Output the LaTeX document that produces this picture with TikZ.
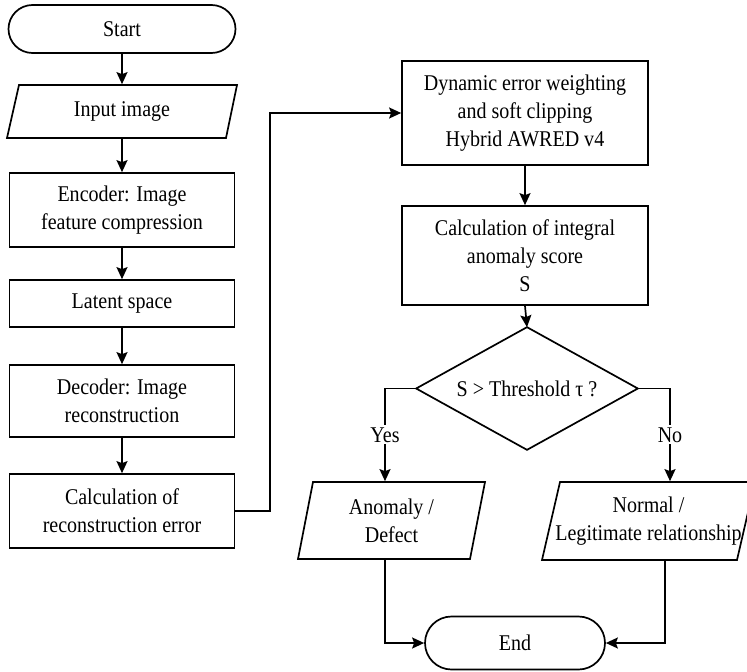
\documentclass[tikz,border=0pt]{standalone}
\usepackage{fontspec}
\setmainfont{Liberation Serif}[FakeStretch=0.89]
\usetikzlibrary{shapes.geometric,shapes.misc,arrows.meta}
\begin{document}
\begin{tikzpicture}[x=1pt,y=-1pt,line width=1.7pt,
  txt/.style={align=center,font=\fontsize{22.5}{28}\selectfont,inner sep=0pt},
  procbox/.style={txt,draw,rectangle},
  termbox/.style={txt,draw,rounded rectangle},
  iobox/.style={txt,rectangle},
  arr/.style={-{Stealth[length=12pt,width=11pt,inset=2pt]}},
  lab/.style={txt,fill=white,inner sep=2pt}]
\useasboundingbox (0,0) rectangle (747,672);
% left column
\node[termbox,minimum width=227pt,minimum height=48pt] (start) at (122,29) {Start};
\draw (19,85) -- (237,85) -- (226,138) -- (7,138) -- cycle;
\node[iobox,minimum width=206pt,minimum height=53pt] (inp) at (122,111.5) {Input image};
\node[procbox,minimum width=225pt,minimum height=74pt] (enc) at (122,210) {Encoder: Image\\feature compression};
\node[procbox,minimum width=225pt,minimum height=47pt] (lat) at (122,303.5) {Latent space};
\node[procbox,minimum width=225pt,minimum height=72pt] (dec) at (122,401) {Decoder: Image\\reconstruction};
\node[procbox,minimum width=225pt,minimum height=74pt] (rec) at (122,511) {Calculation of\\reconstruction error};
% right column
\node[procbox,minimum width=246pt,minimum height=104pt] (dyn) at (525,113) {Dynamic error weighting\\and soft clipping\\Hybrid AWRED v4};
\node[procbox,minimum width=246pt,minimum height=99pt] (score) at (525,255.5) {Calculation of integral\\anomaly score\\S};
\node[iobox,minimum width=220pt,minimum height=121pt] (thr) at (527,388.5) {S > Threshold τ ?};
\draw (thr.north) -- (thr.east) -- (thr.south) -- (thr.west) -- cycle;
\draw (313,482) -- (485,482) -- (470,559) -- (298,559) -- cycle;
\node[iobox,minimum width=170pt,minimum height=77pt] (anom) at (391.5,520.5) {Anomaly /\\Defect};
\draw (560,482) -- (755,482) -- (737,560) -- (542,560) -- cycle;
\node[iobox,minimum width=190pt,minimum height=78pt] (norm) at (648.5,521) {Normal /\\Legitimate relationship};
\node[termbox,minimum width=180pt,minimum height=53pt] (end) at (515,643) {End};
\coordinate (bend) at (270,113);
% connectors
\draw[arr] (start.south) -- (inp.north);
\draw[arr] (inp.south) -- (enc.north);
\draw[arr] (enc.south) -- (lat.north);
\draw[arr] (lat.south) -- (dec.north);
\draw[arr] (dec.south) -- (rec.north);
\draw[arr] (rec.east) -| (bend) -- (dyn.west);
\draw[arr] (dyn.south) -- (score.north);
\draw[arr] (score.south) -- (thr.north);
\draw[arr] (thr.west) -| node[lab,pos=0.75] {Yes} ([xshift=-6.5pt]anom.north);
\draw[arr] (thr.east) -| node[lab,pos=0.75] {No} ([xshift=21.5pt]norm.north);
\draw[arr] ([xshift=-6.5pt]anom.south) |- (end.west);
\draw[arr] ([xshift=16.5pt]norm.south) |- (end.east);
\end{tikzpicture}
\end{document}
